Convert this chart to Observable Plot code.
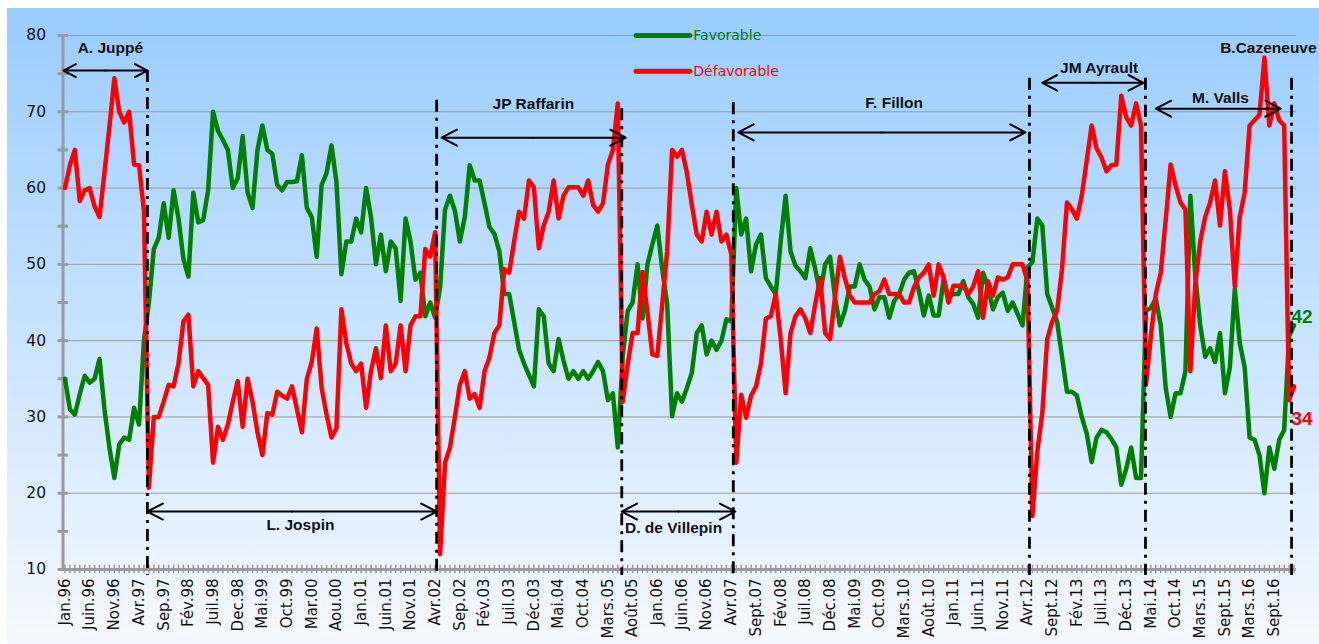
<!DOCTYPE html>
<html><head><meta charset="utf-8">
<script src="https://cdn.jsdelivr.net/npm/d3@7"></script>
<script src="https://cdn.jsdelivr.net/npm/@observablehq/plot@0.6"></script>
<style>
html,body{margin:0;padding:0;background:#fff;}
#chart{width:1319px;height:644px;overflow:hidden;
background:
 linear-gradient(to right,#fff 0,#fff 7px,rgba(255,255,255,0) 7px),
 linear-gradient(to bottom,#fff 0,#fff 8px,#99ccff 8px,#f6f9ff 644px);}
</style></head><body><div id="chart"></div>
<script>
// x-axis tick labels (one every 5 months)
const tickLabels = ["Jan.96","Juin.96","Nov.96","Avr.97","Sep.97","Fév.98","Juil.98","Dec.98","Mai.99","Oct.99","Mar.00","Aou.00","Jan.01","Juin.01","Nov.01","Avr.02","Sep.02","Fév.03","Juil.03","Déc.03","Mai.04","Oct.04","Mars.05","Août.05","Jan.06","Juin.06","Nov.06","Avr.07","Sept.07","Fév.08","Juil.08","Déc.08","Mai.09","Oct.09","Mars.10","Août.10","Jan.11","Juin.11","Nov.11","Avr.12","Sept.12","Fév.13","Juil.13","Déc.13","Mai.14","Oct.14","Mars.15","Sept.15","Mars.16","Sept.16"];

// Favorable opinions (%), monthly
const favorable = [
35,31,30.3,33,35.4,34.5,35,37.6,31,26,
22,26.4,27.3,27,31.2,29,40,45,52,53.5,
58,53.5,59.7,56,50.7,48.4,59.4,55.5,55.8,59.7,
70,67.5,66.3,65,60,61.3,66.8,59.4,57.4,65,
68.2,65,64.5,60.4,59.7,60.8,60.8,60.9,64.3,57.4,
56.2,51,60.4,62,65.6,60.8,48.7,53,53,56,
54.2,60,56.2,50,53.9,49.1,53,52.1,45.2,56,
53,48,48.9,43.2,45,43,47,57.2,59,57,
53,56.2,63,61,61,58,54.9,54,51.7,46.1,
46.1,42.5,38.8,37,35.5,34,44.1,43.2,37,36,
40.2,37.4,35,36,35,36,35,36,37.2,36,
32.2,33.1,26,38,43.9,45,50,42.9,50,52.6,
55.1,49.4,44.8,30.1,33.1,32,33.8,35.8,41,42,
38.2,40,38.8,40,42.8,42.5,60,53.9,56,49.1,
52.6,53.9,48.2,47.1,46.1,53,59,51.7,49.8,49.1,
48.2,52.1,49.4,46.1,50,51,45.7,42,43.9,47.1,
47.1,50,48,47.1,44.1,45.7,45.7,43,45.2,46.1,
48,48.9,49.1,46.5,43.3,45.9,43.3,43.3,48,45.7,
46.1,46.1,47.8,45.7,44.8,43,48.9,47,44.1,45.7,
46.3,43.9,45,43.5,42,49.6,50.3,56,55.1,46.1,
44.3,42.5,37.9,33.3,33.3,32.8,30,27.8,24.1,27.3,
28.3,28,27.1,26,21.1,23.2,26,22,22,43.9,
44.3,45.5,42,33.8,30,33.1,33.1,36,59,48.4,
42,37.9,39,37.2,41,33.1,36.5,46.8,39.7,36.5,
27.3,27,25,20,26,23.2,27,28.3,40.6,42];

// Défavorable opinions (%), monthly
const defavorable = [
60,63,65,58.3,59.7,60,57.6,56.2,62,68,
74.4,70,68.6,70,63.1,63,57,20.7,30,30,
32,34.2,34,37,42.5,43.4,34,36,35.1,34.2,
24,28.7,27,29,32,34.7,28.7,35,32,28,
25,30.5,30.3,33.3,32.8,32.4,34,31,28,35,
37.2,41.6,33.8,30.3,27.3,28.5,44.1,39.7,37,36,
37,31.2,36,39,35.1,42,36,37,42,36,
42,43.2,43.2,52,51,54.2,12,24,26,30,
34.2,36,32.4,33,31.2,36,37.8,41,42,49.4,
48.9,53,56.9,56,61,60.1,52.1,55.1,56.9,61,
56,59,60.1,60.1,60.1,59,61,57.8,56.9,58,
63.1,65,71.1,32,36.9,41,41,49,43.8,38.2,
38,44.7,51.7,65,64.1,65,62,57.8,53.9,53,
56.9,53.9,56.9,53,53.9,51.3,24,32.9,29.9,32.8,
34,37,42.9,43.2,46.1,40.2,33.1,41,43.2,44.1,
42.9,41,44.8,48.2,41,40.2,45.7,51,48.2,45.9,
45,45,45,45,46.1,46.5,48,46.1,46.1,46.1,
45,45,47,48.3,48.9,50,45.9,50,48.3,45,
47.2,47.2,47.2,46.1,47.1,49.1,43,47.8,45.9,48.3,
48,48.3,50,50,50,47.8,17,25.5,30.5,40.2,
42.5,43.9,49.4,58.1,57.2,56,59,63.6,68.2,65.2,
64,62.2,63,63.1,72.1,69.3,68.2,71.1,68.2,34.2,
40.6,46.1,48.9,55.8,63.1,60.4,58.1,57.2,36,47.5,
53,56.2,58.1,61,55.1,62.2,57.2,47.1,56.2,59.4,
68.2,68.9,69.6,77.1,68.2,71.1,68.9,68.2,32.2,34];

// Prime ministers: names and the month span (index) of each mandate arrow
const pmNames  = ["A. Juppé","L. Jospin","JP Raffarin","D. de Villepin","F. Fillon","JM Ayrault","M. Valls","B.Cazeneuve"];
const pmFrom   = [-0.3, 16.7, 76.3, 112.8, 136.4, 198, 221, null];
const pmTo     = [16.7, 75.3, 113.6, 135.8, 194.6, 218.5, 246.3, null];
// month indices of government changes (vertical dash-dot lines)
const changes  = [16.7, 75.3, 112.8, 135.4, 195.4, 218.9, 248.5];

// ---- layout (kept apart from the data) ----
const arrowLevel = [75.4, 17.6, 66.6, 17.6, 67.3, 73.8, 70.4, null];
const labelPos   = [[9.2,78.4],[47.7,15.8],[94.9,71],[123.3,15.5],[168,71.2],[209.5,75.8],[234.1,71.8],[243.8,78.4]];
const changeTop  = [75.4, 71.5, 70.4, 71.2, 74.4, 74.4, 74.4];

const GREEN = "#008000", RED = "#ff0000";
const rows = favorable.map((f, i) => ({i, fav: f, def: defavorable[i]}));
const pms = pmNames.map((name, k) => ({name, from: pmFrom[k], to: pmTo[k], level: arrowLevel[k], lx: labelPos[k][0], ly: labelPos[k][1]}));
const arrows = pms.filter(d => d.from != null).flatMap(d => {
  const m = (d.from + d.to) / 2;
  return [{x1: m, x2: d.from, y: d.level}, {x1: m, x2: d.to, y: d.level}];
});
const lines = changes.map((c, k) => ({x: c, top: changeTop[k]}));
const last = rows[rows.length - 1];

const chart = Plot.plot({
  width: 1319, height: 644,
  marginLeft: 62.5, marginRight: 23, marginTop: 35, marginBottom: 75,
  x: {domain: [-0.4, 249.5], axis: null},
  y: {domain: [10, 80], axis: null},
  style: {background: "transparent", fontFamily: "'DejaVu Sans', sans-serif", overflow: "visible", color: "#111"},
  marks: [
    Plot.gridY(d3.range(20, 81, 10), {stroke: "#9a9a9a", strokeOpacity: 1, strokeWidth: 1}),
    Plot.axisY(d3.range(10, 81, 10), {tickSize: 0, tickPadding: 17, fontSize: 15.5, fill: "#111"}),
    Plot.axisX(d3.range(0, 250, 5), {tickSize: 0, tickPadding: 9, tickRotate: -90, fontSize: 15, fill: "#111",
      tickFormat: d => tickLabels[Math.round(d / 5)]}),
    // axis lines and tick marks
    Plot.ruleX(d3.range(250), {x: d => d, y1: 9.45, y2: 10.55, stroke: "#9a9a9a", strokeWidth: 1.5}),
    Plot.ruleY(d3.range(10, 81, 5), {y: d => d, x1: -1.4, x2: 0.7, stroke: "#9a9a9a", strokeWidth: 3}),
    Plot.ruleY([10], {stroke: "#9a9a9a", strokeWidth: 3}),
    Plot.ruleX([-0.4], {stroke: "#9a9a9a", strokeWidth: 3}),
    // legend
    Plot.ruleY([80], {x1: 115.8, x2: 126.7, stroke: GREEN, strokeWidth: 5, strokeLinecap: "round"}),
    Plot.ruleY([75.3], {x1: 115.8, x2: 126.7, stroke: RED, strokeWidth: 5, strokeLinecap: "round"}),
    Plot.text(["Favorable"], {x: 127.3, y: 80, text: d => d, textAnchor: "start", fill: GREEN, fontSize: 14}),
    Plot.text(["Défavorable"], {x: 127.3, y: 75.3, text: d => d, textAnchor: "start", fill: RED, fontSize: 14}),
    // series
    Plot.line(rows, {x: "i", y: "fav", stroke: GREEN, strokeWidth: 4.5, strokeLinejoin: "round"}),
    Plot.line(rows, {x: "i", y: "def", stroke: RED, strokeWidth: 4.5, strokeLinejoin: "round"}),
    // government change lines
    Plot.ruleX(lines, {x: "x", y1: "top", y2: 9.2, stroke: "#000", strokeWidth: 2.8, strokeDasharray: "12,6,3,6"}),
    // mandate arrows and names
    Plot.arrow(arrows, {x1: "x1", y1: "y", x2: "x2", y2: "y", stroke: "#000", strokeWidth: 2, headLength: 13, headAngle: 55}),
    Plot.text(pms, {x: "lx", y: "ly", text: "name", fontWeight: "bold", fontSize: 15.5, fontFamily: "'Liberation Sans', Arial, sans-serif", fill: "#111"}),
    // end values
    Plot.text([last], {x: "i", y: "fav", text: d => String(Math.round(d.fav)), dx: 8, dy: -8, fill: GREEN, fontWeight: "bold", fontSize: 19, fontFamily: "'Liberation Sans', Arial, sans-serif"}),
    Plot.text([last], {x: "i", y: "def", text: d => String(Math.round(d.def)), dx: 8, dy: 32, fill: RED, fontWeight: "bold", fontSize: 19, fontFamily: "'Liberation Sans', Arial, sans-serif"})
  ]
});
document.getElementById("chart").appendChild(chart);
</script>
</body></html>
